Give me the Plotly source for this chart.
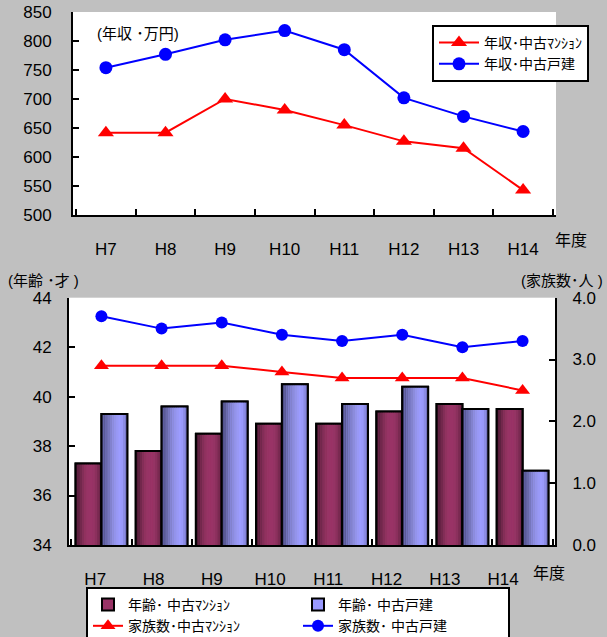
import plotly.graph_objects as go

# ---- data ----
years = ["H7", "H8", "H9", "H10", "H11", "H12", "H13", "H14"]

income_mansion = [642, 642, 700, 681, 655, 627, 615, 543]     # 年収・中古マンション (万円)
income_house = [754, 777, 802, 818, 785, 702, 670, 644]       # 年収・中古戸建 (万円)

age_mansion = [37.3, 37.8, 38.5, 38.9, 38.9, 39.4, 39.7, 39.5]  # 年齢・中古マンション (才)
age_house = [39.3, 39.6, 39.8, 40.5, 39.7, 40.4, 39.5, 37.0]    # 年齢・中古戸建 (才)

family_mansion = [2.9, 2.9, 2.9, 2.8, 2.7, 2.7, 2.7, 2.5]       # 家族数・中古マンション (人)
family_house = [3.7, 3.5, 3.6, 3.4, 3.3, 3.4, 3.2, 3.3]         # 家族数・中古戸建 (人)

# ---- style ----
BG = "#C0C0C0"
FONT = "Liberation Sans, Arial, Noto Sans CJK JP, sans-serif"
RED = "#FF0000"
BLUE = "#0000FF"
MAROON = "#993366"
LILAC = "#9999FF"

# horizontal shading strips for the cylinder-like bars
MAROON_STRIPS = ["#4a1932", "#5e2140", "#72284c", "#832e57", "#90325f", "#973465",
                 "#993366", "#993366", "#953464", "#8b305d", "#7a2a51", "#632242"]
LILAC_STRIPS = ["#4c4c82", "#5a5a96", "#6969aa", "#7676bd", "#8282cd", "#8c8cdc",
                "#9494ea", "#9999f5", "#9c9cff", "#9999fa", "#8c8ce4", "#7373c0"]

BAR_W = 0.43

W, H = 607, 637

fig = go.Figure()

# ---- upper chart: income ----
fig.add_trace(go.Scatter(
    x=years, y=income_mansion, name="年収･中古ﾏﾝｼｮﾝ", mode="lines+markers",
    line=dict(color=RED, width=2), marker=dict(symbol="triangle-up", size=14, color=RED),
    xaxis="x", yaxis="y", legend="legend"))
fig.add_trace(go.Scatter(
    x=years, y=income_house, name="年収･中古戸建", mode="lines+markers",
    line=dict(color=BLUE, width=2), marker=dict(symbol="circle", size=13, color=BLUE),
    xaxis="x", yaxis="y", legend="legend"))


# ---- lower chart: age bars ----
def shaded_bars(values, name, base_color, strips, offset):
    # legend-bearing base bar
    fig.add_trace(go.Bar(
        x=years, y=values, name=name, width=BAR_W, offset=offset,
        marker=dict(color=base_color, line=dict(color="black", width=2)),
        xaxis="x2", yaxis="y2", legend="legend2"))
    n = len(strips)
    sw = BAR_W / n
    for i, c in enumerate(strips):
        fig.add_trace(go.Bar(
            x=years, y=values, width=sw, offset=offset + i * sw,
            marker=dict(color=c, line=dict(width=0)), showlegend=False,
            hoverinfo="skip", xaxis="x2", yaxis="y2"))
    # outline on top
    fig.add_trace(go.Bar(
        x=years, y=values, width=BAR_W, offset=offset,
        marker=dict(color="rgba(0,0,0,0)", line=dict(color="black", width=2)),
        showlegend=False, hoverinfo="skip", xaxis="x2", yaxis="y2"))


shaded_bars(age_mansion, "年齢･ 中古ﾏﾝｼｮﾝ", MAROON, MAROON_STRIPS, -BAR_W)
shaded_bars(age_house, "年齢･ 中古戸建", LILAC, LILAC_STRIPS, 0.0)

# ---- lower chart: family size lines ----
fig.add_trace(go.Scatter(
    x=years, y=family_mansion, name="家族数･中古ﾏﾝｼｮﾝ", mode="lines+markers",
    line=dict(color=RED, width=2), marker=dict(symbol="triangle-up", size=13, color=RED),
    xaxis="x2", yaxis="y3", legend="legend2"))
fig.add_trace(go.Scatter(
    x=years, y=family_house, name="家族数･ 中古戸建", mode="lines+markers",
    line=dict(color=BLUE, width=2), marker=dict(symbol="circle", size=12, color=BLUE),
    xaxis="x2", yaxis="y3", legend="legend2"))

# invisible carrier for the lower chart's year-label axis
fig.add_trace(go.Scatter(
    x=years, y=age_mansion, mode="markers", marker=dict(opacity=0),
    showlegend=False, hoverinfo="skip", xaxis="x4", yaxis="y2"))

axis_common = dict(showline=True, linecolor="black", linewidth=2, showgrid=False,
                   zeroline=False, ticks="inside", tickcolor="black", tickwidth=1.5,
                   tickfont=dict(family=FONT, size=17, color="black"))

fig.update_layout(
    width=W, height=H,
    margin=dict(l=0, r=0, t=0, b=0, autoexpand=False),
    paper_bgcolor=BG,
    plot_bgcolor="white",
    font=dict(family=FONT, color="black"),
    barmode="overlay",
    showlegend=True,
    xaxis=dict(domain=[73 / W, 556 / W], anchor="y", type="category",
               tickson="boundaries", ticklen=6, ticklabelstandoff=18, **axis_common),
    yaxis=dict(domain=[1 - 215 / H, 1 - 12 / H], anchor="x", range=[500, 850],
               dtick=50, ticklen=6, ticklabelstandoff=16, **axis_common),
    xaxis2=dict(domain=[69 / W, 555 / W], anchor="y2", type="category",
                tickson="boundaries", ticklen=6, showticklabels=False, **axis_common),
    # label-only axis for the lower chart's year labels (slightly tighter spacing)
    xaxis4=dict(overlaying="x2", anchor="y2", side="bottom", type="category",
                range=[-0.45, 7.89], showline=False, ticks="", showgrid=False,
                zeroline=False, ticklabelstandoff=22, fixedrange=True,
                tickfont=dict(family=FONT, size=17, color="black")),
    yaxis2=dict(domain=[1 - 545 / H, 1 - 297.7 / H], anchor="x2", range=[34, 44],
                dtick=2, ticklen=6, ticklabelstandoff=12, **axis_common),
    yaxis3=dict(overlaying="y2", anchor="x2", side="right", range=[0, 4], dtick=1,
                tickformat=".1f", ticklen=6, ticklabelstandoff=12, **axis_common),
    legend=dict(x=432 / W, y=1 - 25 / H, xanchor="left", yanchor="top",
                bgcolor="white", bordercolor="black", borderwidth=2,
                font=dict(family=FONT, size=14), tracegroupgap=0,
                itemwidth=40),
    legend2=dict(x=86 / W, y=1 - 587 / H, xanchor="left", yanchor="top",
                 orientation="h", entrywidth=165, entrywidthmode="pixels",
                 bgcolor="white", bordercolor="black", borderwidth=2,
                 font=dict(family=FONT, size=14), traceorder="normal"),
)

annotations = [
    dict(text="(年収 ･万円)", x=95 / W, y=1 - 33 / H, xanchor="left", yanchor="middle", size=15),
    dict(text="年度", x=571 / W, y=1 - 240 / H, xanchor="center", yanchor="middle", size=16),
    dict(text="(年齢 ･才 )", x=6 / W, y=1 - 280 / H, xanchor="left", yanchor="middle", size=15),
    dict(text="(家族数･人 )", x=605 / W, y=1 - 280 / H, xanchor="right", yanchor="middle", size=15),
    dict(text="年度", x=549 / W, y=1 - 573 / H, xanchor="center", yanchor="middle", size=16),
]
for a in annotations:
    fig.add_annotation(text=a["text"], x=a["x"], y=a["y"], xref="paper", yref="paper",
                       xanchor=a["xanchor"], yanchor=a["yanchor"], showarrow=False,
                       font=dict(family=FONT, size=a["size"], color="black"))

fig.write_html("out.html")
